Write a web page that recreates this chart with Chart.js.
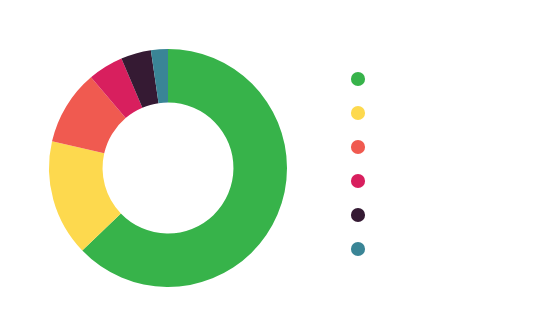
<!DOCTYPE html>
<html>
<head>
<meta charset="utf-8">
<script src="https://cdn.jsdelivr.net/npm/chart.js@4"></script>
<style>
  html, body { margin: 0; padding: 0; background: #ffffff; }
  #wrap { width: 548px; height: 336px; position: relative; }
</style>
</head>
<body>
<div id="wrap"><canvas id="c" width="548" height="336"></canvas></div>
<script>
const categories = ["Green", "Yellow", "Red", "Crimson", "Plum", "Teal"];
const shares = [62.8, 15.8, 10.2, 4.8, 4.1, 2.3];
const colors = ["#37b34a", "#fdd94e", "#f05a50", "#d81f5e", "#351a33", "#3a8596"];

const legendWidthPlugin = {
  id: 'legendWidth',
  beforeInit(chart) {
    const legend = chart.legend;
    const origFit = legend.fit;
    legend.fit = function () {
      origFit.call(this);
      this.width = 216;
    };
  },
  afterLayout(chart) {
    const lg = chart.legend;
    lg.top += 3; lg.bottom += 3;
    lg.left += 1; lg.right += 1;
  }
};

new Chart(document.getElementById('c'), {
  type: 'doughnut',
  data: {
    labels: categories,
    datasets: [{
      data: shares,
      backgroundColor: colors,
      borderWidth: 0,
      hoverOffset: 0
    }]
  },
  options: {
    responsive: false,
    animation: false,
    cutout: '55%',
    layout: { padding: { top: 49, bottom: 49, left: 4, right: 0 } },
    plugins: {
      tooltip: { enabled: false },
      legend: {
        position: 'right',
        align: 'start',
        labels: {
          usePointStyle: true,
          pointStyle: 'circle',
          boxWidth: 10,
          boxHeight: 10,
          padding: 20,
          font: { size: 14, family: 'Lato' },
          generateLabels(chart) {
            const ds = chart.data.datasets[0];
            return chart.data.labels.map((l, i) => ({
              text: '',
              fillStyle: ds.backgroundColor[i],
              strokeStyle: ds.backgroundColor[i],
              lineWidth: 0,
              pointStyle: 'circle',
              hidden: false,
              index: i
            }));
          }
        }
      }
    }
  },
  plugins: [legendWidthPlugin]
});
</script>
</body>
</html>
